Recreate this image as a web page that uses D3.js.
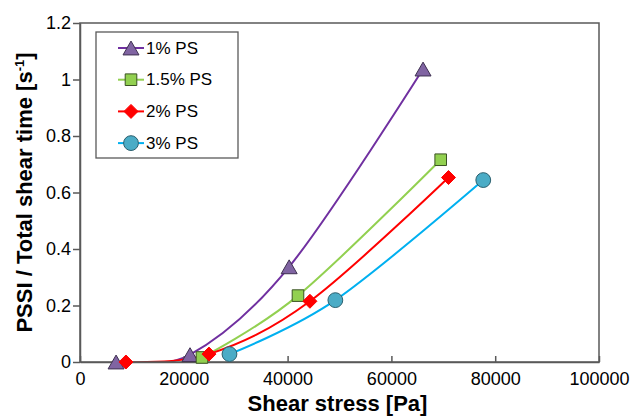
<!DOCTYPE html>
<html>
<head>
<meta charset="utf-8">
<script src="https://cdn.jsdelivr.net/npm/d3@7"></script>
<style>
  html, body { margin: 0; padding: 0; background: #fff; }
  svg { display: block; }
  text { font-family: "Liberation Sans", Arial, sans-serif; fill: #000; }
</style>
</head>
<body>
<svg id="chart" width="632" height="417"></svg>
<script>
// Shear stress [Pa] and PSSI / total shear time [1/s] for each polymer concentration
const seriesNames = ["1% PS", "1.5% PS", "2% PS", "3% PS"];
const stress1 = [6950, 21200, 40300, 66100];
const pssi1   = [0.000, 0.026, 0.337, 1.037];
const stress15 = [23500, 42000, 69500];
const pssi15   = [0.016, 0.235, 0.716];
const stress2 = [8850, 24850, 44300, 71000];
const pssi2   = [0.000, 0.028, 0.215, 0.653];
const stress3 = [28800, 49200, 77700];
const pssi3   = [0.028, 0.219, 0.644];

const xTicks = [0, 20000, 40000, 60000, 80000, 100000];
const yTicks = [0, 0.2, 0.4, 0.6, 0.8, 1, 1.2];

const lineColors   = ["#7030A0", "#92D050", "#FF0000", "#00B0F0"];
const markerFills  = ["#8064A2", "#92D050", "#FF0000", "#4BACC6"];
const markerStroke = ["#3F3151", "#3B5323", "#FF0000", "#2A5F6E"];

// Marker shapes: triangle (bbox-centred), square, diamond (rotated square), circle
function markerPath(i) {
  const p = d3.path();
  if (i === 0) { const s = 16, h = s * Math.sqrt(3) / 2;
    p.moveTo(0, -h / 2); p.lineTo(s / 2, h / 2); p.lineTo(-s / 2, h / 2); p.closePath(); }
  else if (i === 1) { const r = 5.8; p.rect(-r, -r, 2 * r, 2 * r); }
  else if (i === 2) { const r = 7; p.moveTo(0, -r); p.lineTo(r, 0); p.lineTo(0, r); p.lineTo(-r, 0); p.closePath(); }
  else { p.arc(0, 0, 7.4, 0, 2 * Math.PI); }
  return p.toString();
}

const series = [
  { xs: stress1,  ys: pssi1 },
  { xs: stress15, ys: pssi15 },
  { xs: stress2,  ys: pssi2 },
  { xs: stress3,  ys: pssi3 }
].map((s, i) => ({ name: seriesNames[i], i,
  points: s.xs.map((x, k) => ({ x, y: s.ys[k] })) }));

const svg = d3.select("#chart");
const margin = { left: 80, top: 23, right: 33, bottom: 55 };
const W = 632, H = 417;
const x = d3.scaleLinear().domain([0, 100000]).range([margin.left, W - margin.right]);
const y = d3.scaleLinear().domain([0, 1.2]).range([H - margin.bottom, margin.top]);

svg.append("defs").append("clipPath").attr("id", "plotClip")
  .append("rect")
  .attr("x", x(0)).attr("y", y(1.2))
  .attr("width", x(100000) - x(0)).attr("height", y(0) - y(1.2));

const axisColor = "#595959";

// Smoothed connecting lines
const lineGen = d3.line().x(d => x(d.x)).y(d => y(d.y)).curve(d3.curveCardinal.tension(0));
const lineG = svg.append("g").attr("clip-path", "url(#plotClip)");
series.forEach(s => {
  lineG.append("path")
    .datum(s.points)
    .attr("d", lineGen)
    .attr("fill", "none")
    .attr("stroke", lineColors[s.i])
    .attr("stroke-width", 2);
});

// Plot frame and axes
svg.append("rect")
  .attr("x", x(0)).attr("y", y(1.2))
  .attr("width", x(100000) - x(0)).attr("height", y(0) - y(1.2))
  .attr("fill", "none").attr("stroke", axisColor).attr("stroke-width", 1.5);

const xAxis = d3.axisBottom(x).tickValues(xTicks).tickSizeInner(-6).tickSizeOuter(0).tickPadding(10)
  .tickFormat(d3.format("d"));
const gx = svg.append("g").attr("transform", `translate(0,${y(0)})`).call(xAxis);
gx.select(".domain").attr("stroke", axisColor).attr("stroke-width", 1.5);
gx.selectAll(".tick line").attr("stroke", axisColor).attr("stroke-width", 1.5);
gx.selectAll(".tick text").attr("font-size", 18).attr("font-family", "Liberation Sans, Arial, sans-serif").attr("fill", "#000");

const yAxis = d3.axisLeft(y).tickValues(yTicks).tickSizeInner(7).tickSizeOuter(0).tickPadding(2)
  .tickFormat(d => d3.format("")(+d.toFixed(1)));
const gy = svg.append("g").attr("transform", `translate(${x(0)},0)`).call(yAxis);
gy.select(".domain").attr("stroke", axisColor).attr("stroke-width", 1.5);
gy.selectAll(".tick line").attr("stroke", axisColor).attr("stroke-width", 1.5);
gy.selectAll(".tick text").attr("font-size", 18).attr("font-family", "Liberation Sans, Arial, sans-serif").attr("fill", "#000");

// Markers
series.forEach(s => {
  svg.append("g").selectAll("path")
    .data(s.points)
    .join("path")
    .attr("transform", d => `translate(${x(d.x)},${y(d.y)})`)
    .attr("d", markerPath(s.i))
    .attr("fill", markerFills[s.i])
    .attr("stroke", markerStroke[s.i])
    .attr("stroke-width", 1);
});

// Axis titles
svg.append("text")
  .attr("x", (x(0) + x(100000)) / 2 - 2).attr("y", 411)
  .attr("text-anchor", "middle")
  .attr("font-size", 22).attr("font-weight", "bold")
  .text("Shear stress [Pa]");

const yt = svg.append("text")
  .attr("transform", `translate(32,${(y(0) + y(1.2)) / 2}) rotate(-90)`)
  .attr("text-anchor", "middle")
  .attr("font-size", 22).attr("font-weight", "bold");
yt.append("tspan").text("PSSI / Total shear time [s");
yt.append("tspan").attr("font-size", 13).attr("dy", -8).text("-1");
yt.append("tspan").attr("dy", 8).text("]");

// Legend
const lg = svg.append("g").attr("transform", "translate(96,32)");
lg.append("rect").attr("width", 142).attr("height", 126)
  .attr("fill", "#fff").attr("stroke", axisColor).attr("stroke-width", 1.3);
series.forEach((s, k) => {
  const cy = 16 + k * 31.7;
  lg.append("line").attr("x1", 22).attr("x2", 48).attr("y1", cy).attr("y2", cy)
    .attr("stroke", lineColors[s.i]).attr("stroke-width", 2);
  lg.append("path")
    .attr("transform", `translate(35,${cy})`)
    .attr("d", markerPath(s.i))
    .attr("fill", markerFills[s.i]).attr("stroke", markerStroke[s.i]).attr("stroke-width", 1);
  lg.append("text").attr("x", 50).attr("y", cy + 5.5)
    .attr("font-size", 17).text(s.name);
});
</script>
</body>
</html>
